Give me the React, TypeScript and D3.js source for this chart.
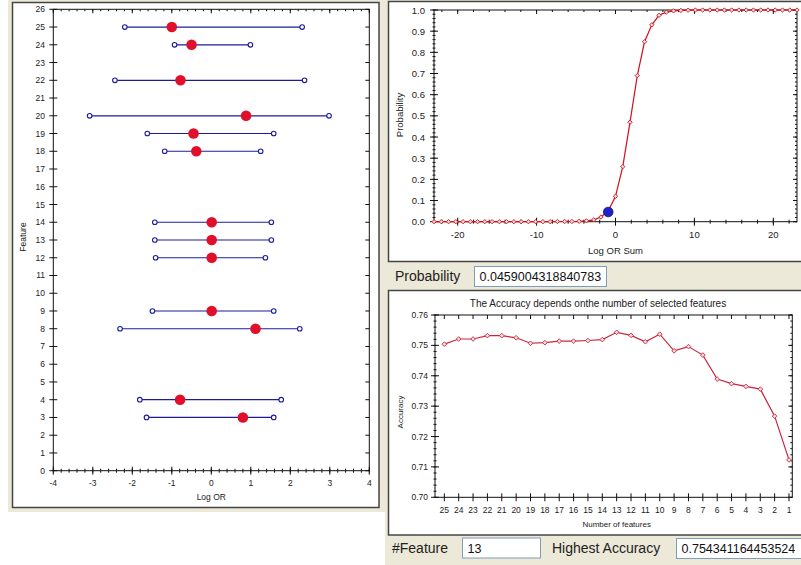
import { useRef, useEffect } from 'react';
import * as d3 from 'd3';

// forest plot (left)
const features = [25, 24, 22, 20, 19, 18, 14, 13, 12, 9, 8, 4, 3];
const logOR = [-1.0, -0.5, -0.78, 0.88, -0.45, -0.38, 0.01, 0.01, 0.01, 0.01, 1.12, -0.79, 0.8];
const lowerCI = [-2.19, -0.93, -2.44, -3.08, -1.62, -1.18, -1.43, -1.43, -1.41, -1.49, -2.31, -1.81, -1.64];
const upperCI = [2.3, 0.99, 2.36, 2.98, 1.58, 1.25, 1.52, 1.52, 1.37, 1.58, 2.24, 1.77, 1.58];

// probability curve (top right)
const logORSum = [
  -23, -22.08, -21.16, -20.24, -19.32, -18.4, -17.48, -16.56, -15.64, -14.72,
  -13.8, -12.88, -11.96, -11.04, -10.12, -9.2, -8.28, -7.36, -6.44, -5.52,
  -4.6, -3.68, -2.76, -1.84, -0.92, 0, 0.92, 1.84, 2.76, 3.68,
  4.6, 5.52, 6.44, 7.36, 8.28, 9.2, 10.12, 11.04, 11.96, 12.88,
  13.8, 14.72, 15.64, 16.56, 17.48, 18.4, 19.32, 20.24, 21.16, 22.08, 23,
];
const probability = [
  0, 0, 0, 0, 0, 0, 0, 0, 0, 0,
  0, 0, 0, 0, 0, 0, 0, 0.001, 0.001, 0.001,
  0.002, 0.004, 0.009, 0.022, 0.05, 0.12, 0.26, 0.47, 0.69, 0.85,
  0.93, 0.975, 0.99, 0.996, 0.998, 0.999, 1, 1, 1, 1,
  1, 1, 1, 1, 1, 1, 1, 1, 1, 1, 1,
];
const currentSum = -0.92;
const currentProb = 0.0459004318840783;

// accuracy curve (bottom right)
const numFeatures = [25, 24, 23, 22, 21, 20, 19, 18, 17, 16, 15, 14, 13, 12, 11, 10, 9, 8, 7, 6, 5, 4, 3, 2, 1];
const accuracy = [
  0.7504, 0.7521, 0.7521, 0.7532, 0.7532, 0.7525, 0.7507, 0.7509, 0.7514, 0.7514,
  0.7516, 0.7519, 0.7543, 0.7533, 0.7512, 0.7537, 0.7482, 0.7496, 0.7468, 0.7389,
  0.7374, 0.7365, 0.7356, 0.7267, 0.7123,
];
const bestFeature = '13';
const bestAccuracy = '0.754341164453524';

const beige = '#ece9d8';
const font = '"Liberation Sans", Arial, sans-serif';

function tickLines(g, vals, fn) {
  g.selectAll(null).data(vals).enter().append('line')
    .each(function (d) {
      const [x1, y1, x2, y2] = fn(d);
      d3.select(this).attr('x1', x1).attr('y1', y1).attr('x2', x2).attr('y2', y2);
    })
    .attr('stroke', '#111').attr('stroke-width', 1);
}

function frame(g, x, y) {
  const [x0, x1] = x.range();
  const [y0, y1] = y.range();
  g.append('rect')
    .attr('x', Math.min(x0, x1)).attr('y', Math.min(y0, y1))
    .attr('width', Math.abs(x1 - x0)).attr('height', Math.abs(y1 - y0))
    .attr('fill', 'white').attr('stroke', '#111').attr('stroke-width', 1);
}

function textBox(svg, x, y, w, h, txt) {
  svg.append('rect').attr('x', x).attr('y', y).attr('width', w).attr('height', h)
    .attr('fill', 'white').attr('stroke', '#7f9db9');
  svg.append('text').attr('x', x + 5).attr('y', y + h / 2 + 4.5)
    .attr('font-size', 12.5).attr('font-family', font).attr('fill', '#111').text(txt);
}

function App() {
  const ref = useRef(null);

  useEffect(() => {
    d3.select(ref.current).selectAll('*').remove();
    const svg = d3.select(ref.current);

    // window backgrounds and panel borders
    svg.append('rect').attr('x', 8).attr('y', 0).attr('width', 380).attr('height', 512).attr('fill', beige);
    svg.append('rect').attr('x', 385).attr('y', 0).attr('width', 416).attr('height', 565).attr('fill', beige);
    svg.append('rect').attr('x', 12.5).attr('y', 2.5).attr('width', 366.5).attr('height', 505)
      .attr('fill', 'white').attr('stroke', '#444').attr('stroke-width', 1.5);
    svg.append('rect').attr('x', 388.5).attr('y', 1.5).attr('width', 420).attr('height', 260)
      .attr('fill', 'white').attr('stroke', '#444').attr('stroke-width', 1.5);
    svg.append('rect').attr('x', 388.5).attr('y', 290.5).attr('width', 420).attr('height', 244.5)
      .attr('fill', 'white').attr('stroke', '#444').attr('stroke-width', 1.5);

    // ---------- forest plot ----------
    {
      const x = d3.scaleLinear().domain([-4, 4]).range([53.3, 369.3]);
      const y = d3.scaleLinear().domain([0, 26]).range([470.7, 9.3]);
      const g = svg.append('g');
      frame(g, x, y);
      const yt = d3.range(0, 27);
      const xMaj = x.ticks(8);
      const xMin = d3.range(-40, 41, 2).map(v => v / 10);
      tickLines(g, yt, d => [x(-4) - 4, y(d), x(-4) + 4, y(d)]);
      tickLines(g, yt, d => [x(4) - 4, y(d), x(4), y(d)]);
      tickLines(g, xMin, d => [x(d), y(0) - 2, x(d), y(0) + 2]);
      tickLines(g, xMaj, d => [x(d), y(0) - 4, x(d), y(0) + 4]);
      tickLines(g, xMin, d => [x(d), y(26), x(d), y(26) + 2]);
      tickLines(g, xMaj, d => [x(d), y(26), x(d), y(26) + 4]);
      g.selectAll(null).data(yt).enter().append('text')
        .attr('x', 45).attr('y', d => y(d) + 3).attr('text-anchor', 'end')
        .attr('font-size', 8.5).attr('font-family', font).attr('fill', '#222').text(d => d);
      g.selectAll(null).data(xMaj).enter().append('text')
        .attr('x', d => x(d)).attr('y', 486).attr('text-anchor', 'middle')
        .attr('font-size', 8.5).attr('font-family', font).attr('fill', '#222').text(d => d);
      g.append('text').attr('x', x(0)).attr('y', 500).attr('text-anchor', 'middle')
        .attr('font-size', 8.5).attr('font-family', font).attr('fill', '#222').text('Log OR');
      g.append('text').attr('transform', 'translate(26,237) rotate(-90)').attr('text-anchor', 'middle')
        .attr('font-size', 8.5).attr('font-family', font).attr('fill', '#222').text('Feature');

      const rows = features.map((f, i) => ({ f, p: logOR[i], lo: lowerCI[i], hi: upperCI[i] }));
      g.selectAll(null).data(rows).enter().append('line')
        .attr('x1', d => x(d.lo)).attr('x2', d => x(d.hi))
        .attr('y1', d => y(d.f)).attr('y2', d => y(d.f))
        .attr('stroke', '#1c1c9c').attr('stroke-width', 1.2);
      ['lo', 'hi'].forEach(k => {
        g.selectAll(null).data(rows).enter().append('circle')
          .attr('cx', d => x(d[k])).attr('cy', d => y(d.f)).attr('r', 2.3)
          .attr('fill', 'white').attr('stroke', '#1c1c9c').attr('stroke-width', 1.1);
      });
      g.selectAll(null).data(rows).enter().append('circle')
        .attr('cx', d => x(d.p)).attr('cy', d => y(d.f)).attr('r', 5.3)
        .attr('fill', '#e0102a');
    }

    // ---------- probability curve ----------
    {
      const x = d3.scaleLinear().domain([-23, 23]).range([434, 797]);
      const y = d3.scaleLinear().domain([0, 1]).range([221.7, 10]);
      const g = svg.append('g');
      frame(g, x, y);
      const yMaj = d3.range(0, 11).map(v => v / 10);
      const yMin = d3.range(0, 51).map(v => v / 50);
      const xMaj = [-20, -10, 0, 10, 20];
      const xMin = d3.range(-22, 23, 2);
      tickLines(g, yMin, d => [x(-23) - 1.5, y(d), x(-23) + 1.5, y(d)]);
      tickLines(g, yMaj, d => [x(-23) - 4, y(d), x(-23) + 4, y(d)]);
      tickLines(g, yMin, d => [x(23) - 2, y(d), x(23), y(d)]);
      tickLines(g, yMaj, d => [x(23) - 4, y(d), x(23), y(d)]);
      tickLines(g, xMin, d => [x(d), y(0) - 2, x(d), y(0) + 2]);
      tickLines(g, xMaj, d => [x(d), y(0) - 4, x(d), y(0) + 4]);
      tickLines(g, xMin, d => [x(d), y(1), x(d), y(1) + 2]);
      tickLines(g, xMaj, d => [x(d), y(1), x(d), y(1) + 4]);
      g.selectAll(null).data(yMaj).enter().append('text')
        .attr('x', 425).attr('y', d => y(d) + 3.5).attr('text-anchor', 'end')
        .attr('font-size', 9.5).attr('font-family', font).attr('fill', '#222').text(d => d.toFixed(1));
      g.selectAll(null).data(xMaj).enter().append('text')
        .attr('x', d => x(d)).attr('y', 237.5).attr('text-anchor', 'middle')
        .attr('font-size', 9.5).attr('font-family', font).attr('fill', '#222').text(d => d);
      g.append('text').attr('x', x(0)).attr('y', 254).attr('text-anchor', 'middle')
        .attr('font-size', 9.5).attr('font-family', font).attr('fill', '#222').text('Log OR Sum');
      g.append('text').attr('transform', 'translate(403,115) rotate(-90)').attr('text-anchor', 'middle')
        .attr('font-size', 9.5).attr('font-family', font).attr('fill', '#222').text('Probability');

      const pts = logORSum.map((v, i) => [v, probability[i]]);
      g.append('path').datum(pts)
        .attr('d', d3.line().x(d => x(d[0])).y(d => y(d[1])))
        .attr('fill', 'none').attr('stroke', '#d0101a').attr('stroke-width', 1.2);
      g.selectAll(null).data(pts).enter().append('path')
        .attr('d', d3.symbol(d3.symbolDiamond2, 12))
        .attr('transform', d => `translate(${x(d[0])},${y(d[1])})`)
        .attr('fill', '#fbd8dc').attr('stroke', '#d0101a').attr('stroke-width', 0.9);
      g.append('circle').attr('cx', x(currentSum)).attr('cy', y(currentProb)).attr('r', 4.8)
        .attr('fill', '#2020d0').attr('stroke', '#101070').attr('stroke-width', 0.8);
    }

    svg.append('text').attr('x', 395).attr('y', 281).attr('font-size', 14)
      .attr('font-family', font).attr('fill', '#222').text('Probability');
    textBox(svg, 474.5, 266.5, 132, 20, String(currentProb));

    // ---------- accuracy curve ----------
    {
      const x = d3.scaleLinear().domain([25.65, 0.77]).range([435, 792.3]);
      const y = d3.scaleLinear().domain([0.7, 0.76]).range([497.3, 315]);
      const g = svg.append('g');
      frame(g, x, y);
      const yMaj = d3.range(70, 77).map(v => v / 100);
      const yMin = d3.range(350, 381).map(v => v / 500);
      tickLines(g, yMin, d => [x(25.65) - 1.5, y(d), x(25.65) + 1.5, y(d)]);
      tickLines(g, yMaj, d => [x(25.65) - 4, y(d), x(25.65) + 4, y(d)]);
      tickLines(g, yMin, d => [x(0.77) - 2, y(d), x(0.77), y(d)]);
      tickLines(g, yMaj, d => [x(0.77) - 4, y(d), x(0.77), y(d)]);
      tickLines(g, numFeatures, d => [x(d), y(0.7) - 4, x(d), y(0.7) + 4]);
      tickLines(g, numFeatures, d => [x(d), y(0.76), x(d), y(0.76) + 4]);
      g.selectAll(null).data(yMaj).enter().append('text')
        .attr('x', 428).attr('y', d => y(d) + 3).attr('text-anchor', 'end')
        .attr('font-size', 8.5).attr('font-family', font).attr('fill', '#222').text(d => d.toFixed(2));
      g.selectAll(null).data(numFeatures).enter().append('text')
        .attr('x', d => x(d)).attr('y', 513).attr('text-anchor', 'middle')
        .attr('font-size', 8.5).attr('font-family', font).attr('fill', '#222').text(d => d);
      g.append('text').attr('x', x(13)).attr('y', 527).attr('text-anchor', 'middle')
        .attr('font-size', 8).attr('font-family', font).attr('fill', '#222').text('Number of features');
      g.append('text').attr('transform', 'translate(403,412) rotate(-90)').attr('text-anchor', 'middle')
        .attr('font-size', 8).attr('font-family', font).attr('fill', '#222').text('Accuracy');
      g.append('text').attr('x', 598).attr('y', 307).attr('text-anchor', 'middle')
        .attr('font-size', 10).attr('font-family', font).attr('fill', '#222')
        .text('The Accuracy depends onthe number of selected features');

      const pts = numFeatures.map((n, i) => [n, accuracy[i]]);
      g.append('path').datum(pts)
        .attr('d', d3.line().x(d => x(d[0])).y(d => y(d[1])))
        .attr('fill', 'none').attr('stroke', '#c8283c').attr('stroke-width', 1.2);
      g.selectAll(null).data(pts).enter().append('path')
        .attr('d', d3.symbol(d3.symbolDiamond2, 14))
        .attr('transform', d => `translate(${x(d[0])},${y(d[1])})`)
        .attr('fill', '#fbd8dc').attr('stroke', '#c8283c').attr('stroke-width', 0.9);
    }

    svg.append('text').attr('x', 392).attr('y', 553).attr('font-size', 14)
      .attr('font-family', font).attr('fill', '#222').text('#Feature');
    textBox(svg, 462.5, 538, 78, 20, bestFeature);
    svg.append('text').attr('x', 552).attr('y', 553).attr('font-size', 14)
      .attr('font-family', font).attr('fill', '#222').text('Highest Accuracy');
    textBox(svg, 676.5, 538.5, 140, 20, bestAccuracy);
  }, []);

  return <svg ref={ref} width={801} height={565} style={{ position: 'absolute', left: 0, top: 0 }} />;
}

export default App;
